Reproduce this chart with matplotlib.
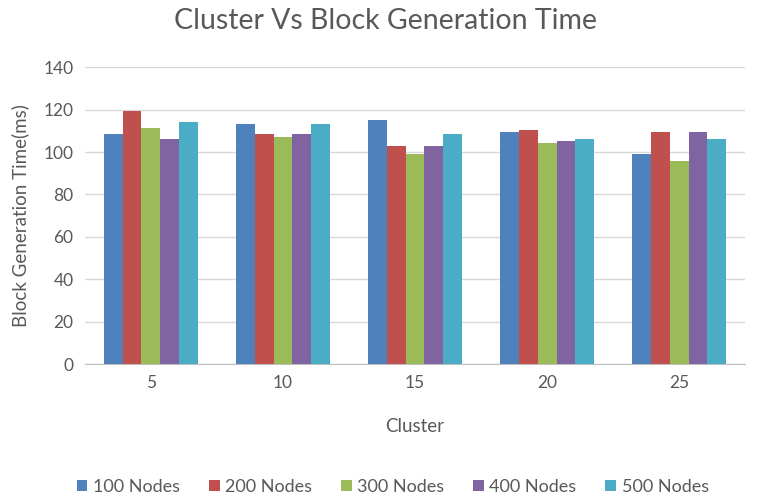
import numpy as np
import matplotlib
matplotlib.use("Agg")
import matplotlib.pyplot as plt

plt.rcParams['font.family'] = ['Lato', 'DejaVu Sans']

clusters = ['5', '10', '15', '20', '25']
series_names = ['100 Nodes', '200 Nodes', '300 Nodes', '400 Nodes', '500 Nodes']
nodes_100 = [108.5, 113, 115, 109.4, 99]
nodes_200 = [119.3, 108.5, 103, 110.4, 109.4]
nodes_300 = [111.4, 107.2, 98.9, 104.2, 95.9]
nodes_400 = [106.3, 108.5, 103, 105.2, 109.4]
nodes_500 = [114, 113, 108.3, 106.3, 106.3]
colors = ['#4F81BD', '#C0504D', '#9BBB59', '#8064A2', '#4BACC6']

values = [nodes_100, nodes_200, nodes_300, nodes_400, nodes_500]
text_c = '#595959'

fig = plt.figure(figsize=(7.7, 4.98), dpi=100)
ax = fig.add_axes([0.110, 0.269, 0.858, 0.596])

x = np.arange(len(clusters))
w = 0.142
for i, (name, vals) in enumerate(zip(series_names, values)):
    ax.bar(x + (i - 2) * w, vals, width=w, color=colors[i], label=name, zorder=3)

ax.set_xlim(-0.5, 4.5)
ax.set_ylim(0, 140)
ax.set_yticks(range(0, 141, 20))
ax.set_xticks(x)
ax.set_xticklabels(clusters)
ax.grid(axis='y', color='#D9D9D9', linewidth=1, zorder=0)
for s in ['left', 'right', 'top']:
    ax.spines[s].set_visible(False)
ax.spines['bottom'].set_color('#BFBFBF')
ax.tick_params(axis='both', length=0, labelsize=12.5, colors=text_c, pad=8)

# title and x label placed by figure coords to match the layout
fig.text(0.5, 0.958, 'Cluster Vs Block Generation Time', fontsize=20.5, color=text_c,
         ha='center', va='center')
fig.text(0.539, 0.143, 'Cluster', fontsize=13.5, color=text_c, ha='center', va='center')
ax.set_ylabel('Block Generation Time(ms)', fontsize=13.5, color=text_c, labelpad=10)

fig.legend(loc='center', ncol=5, frameon=False, fontsize=13,
           bbox_to_anchor=(0.51, 0.022), handlelength=0.6, handleheight=0.6,
           handletextpad=0.3, columnspacing=1.6, labelcolor=text_c)

fig.savefig('out.png', dpi=100)
